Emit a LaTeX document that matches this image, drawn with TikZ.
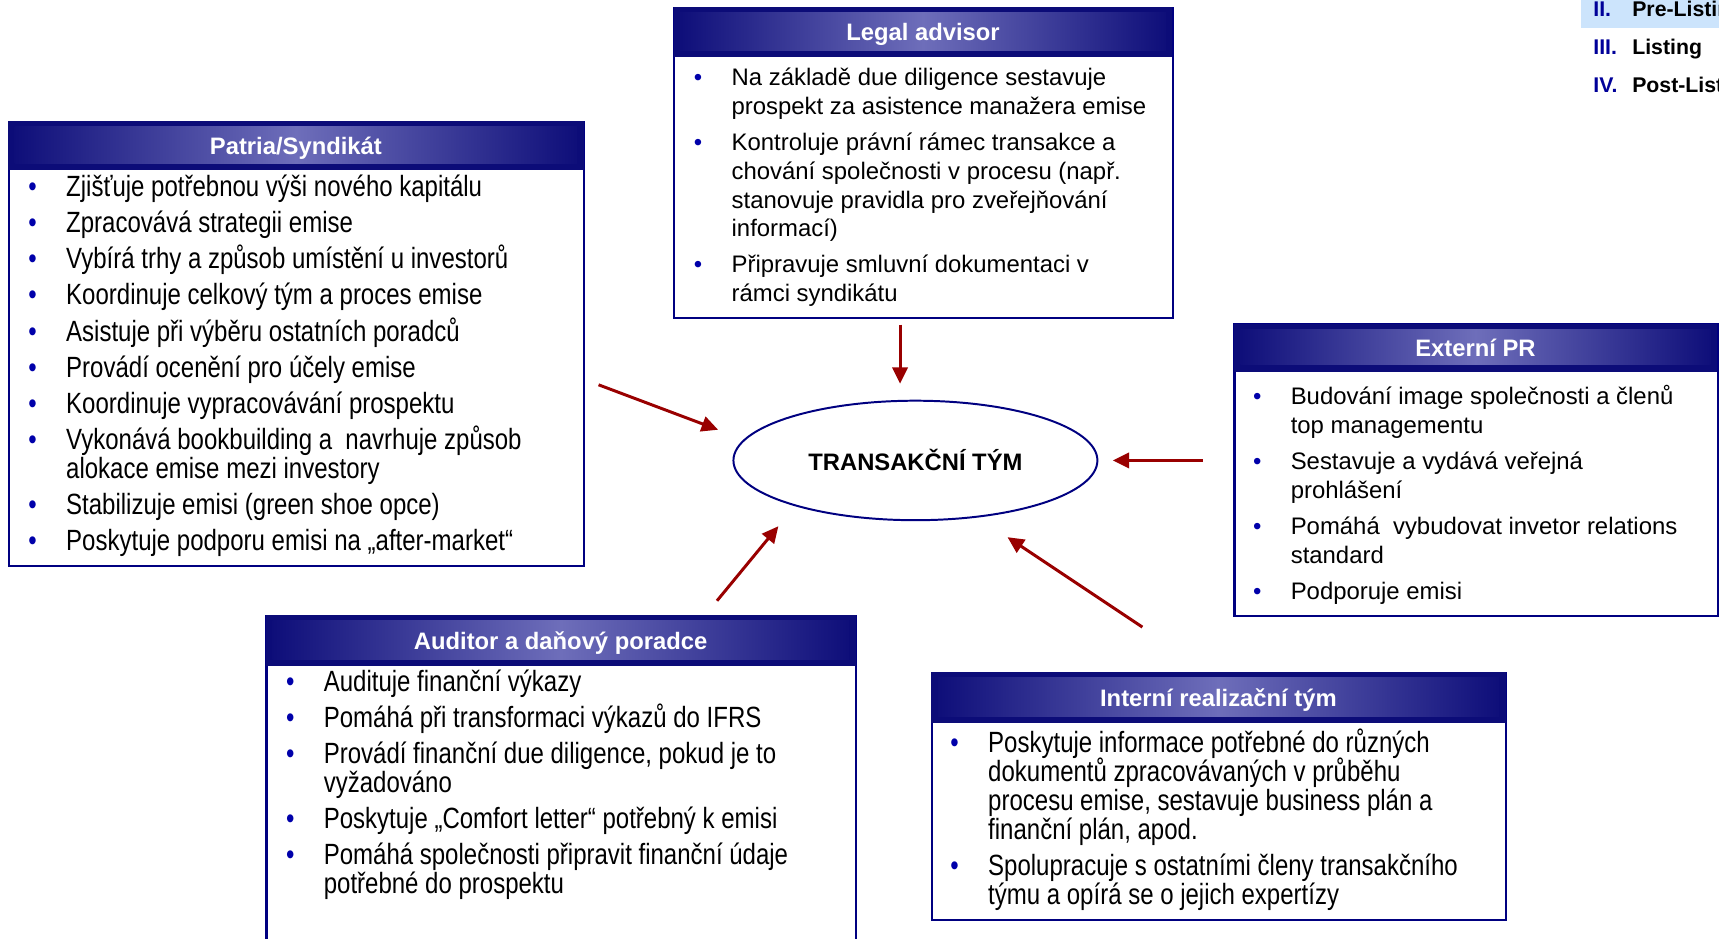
\documentclass[tikz,border=0pt]{standalone}
\usepackage{fontspec}
\setmainfont{Liberation Sans}
\newfontfamily\narrowf[FakeStretch=0.82]{Liberation Sans}
\usetikzlibrary{shapes.geometric,arrows.meta}
\definecolor{navyb}{RGB}{0,0,128}
\definecolor{hdark}{RGB}{12,12,120}
\definecolor{hlight}{RGB}{110,110,186}
\definecolor{bulc}{RGB}{0,0,170}
\definecolor{arrred}{RGB}{153,0,0}
\definecolor{navhl}{RGB}{204,228,252}
\definecolor{navnum}{RGB}{0,0,153}
\normallineskiplimit=-100pt
\lineskiplimit=-100pt
\newcommand\bodyn{\fontsize{10.9pt}{13.15pt}\selectfont}
\newcommand\bodyw{\narrowf\fontsize{13.35pt}{13.15pt}\selectfont}
\newcommand\bu{\leavevmode\llap{\textcolor{bulc}{\textbullet}\hspace{13.4pt}}}
\newcommand\ig{\\[3.3pt]}
\newcommand\fixls{\lineskiplimit=-100pt\lineskip=0pt\raggedright}
\tikzset{
  boxst/.style={draw=navyb, fill=white, line width=1pt, rectangle, inner sep=0},
  hdrst/.style={rectangle, fill=hdark, inner sep=0, text=white,
    text height=7.6pt, text depth=0pt,
    font=\bfseries\fontsize{10.85pt}{13pt}\selectfont,
    path picture={
      \shade[left color=hdark, right color=hdark, middle color=hlight]
        ([xshift=3pt,yshift=-2.5pt]path picture bounding box.north west) rectangle
        ([xshift=-3pt,yshift=3pt]path picture bounding box.south east);}},
  txtst/.style={anchor=base west, inner sep=0, align=left},
  arr/.style={draw=arrred, line width=1.35pt, -{Triangle[length=7.5pt,width=7pt]}},
  navnumst/.style={anchor=base west, inner sep=0, text=navnum, font=\bfseries\fontsize{9.7pt}{11pt}\selectfont},
  navtxtst/.style={anchor=base west, inner sep=0, text=black, font=\bfseries\fontsize{9.7pt}{11pt}\selectfont},
}
\begin{document}
\begin{tikzpicture}[x=0.5pt, y=-0.5pt]
\useasboundingbox (0,0) rectangle (1568,856.5);
\clip (0,0) rectangle (1568,856.5);

% navigation at top right
\fill[navhl] (1442,-2) rectangle (1575,25.5);
\node[navnumst] (nav2) at (1453,15) {II.};
\node[navtxtst] (nav2t) at (1488.5,15) {Pre-Listing};
\node[navnumst] (nav3) at (1453,49.3) {III.};
\node[navtxtst] (nav3t) at (1488.5,49.3) {Listing};
\node[navnumst] (nav4) at (1453,84.2) {IV.};
\node[navtxtst] (nav4t) at (1488.5,84.2) {Post-Listing};

% Patria / Syndikat
\node[boxst, anchor=north west, minimum width=262.5pt, minimum height=202.5pt] (patria) at (7,110) {};
\node[hdrst, anchor=north west, minimum width=262.5pt, minimum height=22.5pt] (patriahdr) at (7,110) {Patria/Syndikát};
\node[txtst] (patriatxt) at (60,179.5) {\bodyw\parbox[t]{260pt}{\fixls
\bu Zjišťuje potřebnou výši nového kapitálu\ig
\bu Zpracovává strategii emise\ig
\bu Vybírá trhy a způsob umístění u investorů\ig
\bu Koordinuje celkový tým a proces emise\ig
\bu Asistuje při výběru ostatních poradců\ig
\bu Provádí ocenění pro účely emise\ig
\bu Koordinuje vypracovávání prospektu\ig
\bu Vykonává bookbuilding a\ \ navrhuje způsob\\
alokace emise mezi investory\ig
\bu Stabilizuje emisi (green shoe opce)\ig
\bu Poskytuje podporu emisi na „after-market“}};

% Legal advisor
\node[boxst, anchor=north west, minimum width=227.5pt, minimum height=141.5pt] (legal) at (614,6) {};
\node[hdrst, anchor=north west, minimum width=227.5pt, minimum height=23pt] (legalhdr) at (614,6) {Legal advisor};
\node[txtst] (legaltxt) at (667,78) {\bodyn\parbox[t]{260pt}{\fixls
\bu Na základě due diligence sestavuje\\
prospekt za asistence manažera emise\ig
\bu Kontroluje právní rámec transakce a\\
chování společnosti v procesu (např.\\
stanovuje pravidla pro zveřejňování\\
informací)\ig
\bu Připravuje smluvní dokumentaci v\\
rámci syndikátu}};

% Externi PR
\node[boxst, anchor=north west, minimum width=220.5pt, minimum height=133pt] (pr) at (1125,295) {};
\node[hdrst, anchor=north west, minimum width=220.5pt, minimum height=21.75pt] (prhdr) at (1125,295) {Externí PR};
\node[txtst] (prtxt) at (1177,369) {\bodyn\parbox[t]{260pt}{\fixls
\bu Budování image společnosti a členů\\
top managementu\ig
\bu Sestavuje a vydává veřejná\\
prohlášení\ig
\bu Pomáhá\ \ vybudovat invetor relations\\
standard\ig
\bu Podporuje emisi}};

% Auditor a danovy poradce
\node[boxst, anchor=north west, minimum width=269pt, minimum height=160pt] (audit) at (242,561) {};
\node[hdrst, anchor=north west, minimum width=269pt, minimum height=23pt] (audithdr) at (242,561) {Auditor a daňový poradce};
\node[txtst] (audittxt) at (295,630.5) {\bodyw\parbox[t]{260pt}{\fixls
\bu Audituje finanční výkazy\ig
\bu Pomáhá při transformaci výkazů do IFRS\ig
\bu Provádí finanční due diligence, pokud je to\\
vyžadováno\ig
\bu Poskytuje „Comfort letter“ potřebný k emisi\ig
\bu Pomáhá společnosti připravit finanční údaje\\
potřebné do prospektu}};

% Interni realizacni tym
\node[boxst, anchor=north west, minimum width=262pt, minimum height=112.5pt] (intern) at (849,613) {};
\node[hdrst, anchor=north west, minimum width=262pt, minimum height=23pt] (internhdr) at (849,613) {Interní realizační tým};
\node[txtst] (interntxt) at (901,686.5) {\bodyw\parbox[t]{260pt}{\fixls
\bu Poskytuje informace potřebné do různých\\
dokumentů zpracovávaných v průběhu\\
procesu emise, sestavuje business plán a\\
finanční plán, apod.\ig
\bu Spolupracuje s ostatními členy transakčního\\
týmu a opírá se o jejich expertízy}};

% central ellipse
\node[ellipse, draw=navyb, line width=0.9pt, minimum width=166pt, minimum height=54.5pt, inner sep=0,
  font=\bfseries\fontsize{10.85pt}{13pt}\selectfont] (team) at (835,420) {TRANSAKČNÍ TÝM};

% arrows
\coordinate (a1s) at (546,351); \coordinate (a1e) at (655,392);
\coordinate (a2s) at (821,296); \coordinate (a2e) at (821,350);
\coordinate (a3s) at (1097,420); \coordinate (a3e) at (1015,420);
\coordinate (a4s) at (654,548); \coordinate (a4e) at (710,480);
\coordinate (a5s) at (1042,572); \coordinate (a5e) at (919,490);
\draw[arr] (a1s) -- (a1e);
\draw[arr] (a2s) -- (a2e);
\draw[arr] (a3s) -- (a3e);
\draw[arr] (a4s) -- (a4e);
\draw[arr] (a5s) -- (a5e);
\end{tikzpicture}
\end{document}
